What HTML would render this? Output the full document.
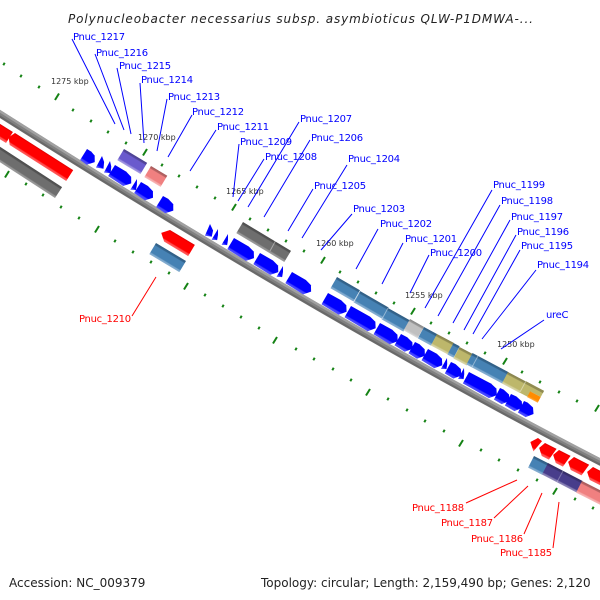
<!DOCTYPE html>
<html><head><meta charset="utf-8"><style>
html,body{margin:0;padding:0;background:#fff}
svg{display:block}
.l{font:10px "DejaVu Sans",sans-serif;letter-spacing:-.3px}
.b{fill:#00f}.r{fill:#f00}
.k{font:8px "DejaVu Sans",sans-serif;fill:#333}
.f{font:12px "DejaVu Sans",sans-serif;fill:#222}
</style></head><body>
<svg width="600" height="600" viewBox="0 0 600 600" xmlns="http://www.w3.org/2000/svg">
<defs>
<linearGradient id="bl" x1="0" y1="0" x2="0" y2="1"><stop offset="0" stop-color="#0000e8"/><stop offset=".1" stop-color="#00f"/><stop offset=".76" stop-color="#00f"/><stop offset=".84" stop-color="#4040ff"/><stop offset="1" stop-color="#5050ff"/></linearGradient>
<linearGradient id="rd" x1="0" y1="0" x2="0" y2="1"><stop offset="0" stop-color="#d80000"/><stop offset=".12" stop-color="#f00"/><stop offset=".78" stop-color="#f00"/><stop offset=".86" stop-color="#ff4a4a"/><stop offset="1" stop-color="#ff5c5c"/></linearGradient>
<linearGradient id="st" x1="0" y1="0" x2="0" y2="1"><stop offset="0" stop-color="#2f5c82"/><stop offset=".16" stop-color="#35668f"/><stop offset=".22" stop-color="#4682b4"/><stop offset=".8" stop-color="#4682b4"/><stop offset=".87" stop-color="#7aa6cc"/><stop offset="1" stop-color="#86aed0"/></linearGradient>
<linearGradient id="gy" x1="0" y1="0" x2="0" y2="1"><stop offset="0" stop-color="#4c4c4c"/><stop offset=".16" stop-color="#555"/><stop offset=".22" stop-color="#6e6e6e"/><stop offset=".8" stop-color="#6e6e6e"/><stop offset=".87" stop-color="#929292"/><stop offset="1" stop-color="#9a9a9a"/></linearGradient>
<linearGradient id="pu" x1="0" y1="0" x2="0" y2="1"><stop offset="0" stop-color="#4a3f90"/><stop offset=".16" stop-color="#55489f"/><stop offset=".22" stop-color="#6a5acd"/><stop offset=".8" stop-color="#6a5acd"/><stop offset=".87" stop-color="#9488dc"/><stop offset="1" stop-color="#a79de2"/></linearGradient>
<linearGradient id="pk" x1="0" y1="0" x2="0" y2="1"><stop offset="0" stop-color="#a85a5a"/><stop offset=".16" stop-color="#b86464"/><stop offset=".22" stop-color="#f08080"/><stop offset=".8" stop-color="#f08080"/><stop offset=".87" stop-color="#f5a6a6"/><stop offset="1" stop-color="#f8b8b8"/></linearGradient>
<linearGradient id="kh" x1="0" y1="0" x2="0" y2="1"><stop offset="0" stop-color="#84804b"/><stop offset=".16" stop-color="#948f55"/><stop offset=".22" stop-color="#bdb76b"/><stop offset=".8" stop-color="#bdb76b"/><stop offset=".87" stop-color="#d1cd97"/><stop offset="1" stop-color="#dad7aa"/></linearGradient>
<linearGradient id="lg" x1="0" y1="0" x2="0" y2="1"><stop offset="0" stop-color="#868686"/><stop offset=".16" stop-color="#999"/><stop offset=".22" stop-color="#c0c0c0"/><stop offset=".8" stop-color="#c0c0c0"/><stop offset="1" stop-color="#dcdcdc"/></linearGradient>
<linearGradient id="ds" x1="0" y1="0" x2="0" y2="1"><stop offset="0" stop-color="#322b61"/><stop offset=".16" stop-color="#3a3170"/><stop offset=".22" stop-color="#483d8b"/><stop offset=".8" stop-color="#483d8b"/><stop offset=".87" stop-color="#7f77ae"/><stop offset="1" stop-color="#9089ba"/></linearGradient>
<linearGradient id="or" x1="0" y1="0" x2="0" y2="1"><stop offset="0" stop-color="#ff8c00"/><stop offset=".7" stop-color="#ff8c00"/><stop offset="1" stop-color="#ffb04d"/></linearGradient>
</defs>

<text x="68" y="23" style="font:italic 12px 'DejaVu Sans',sans-serif;fill:#222" textLength="465">Polynucleobacter necessarius subsp. asymbioticus QLW-P1DMWA-...</text>

<!-- backbone -->
<path d="M-16,104 L0,114 Q327,321 600,462 L616,470" fill="none" stroke="#808080" stroke-width="7"/>
<path d="M-16,104 L0,114 Q327,321 600,462 L616,470" fill="none" stroke="#a0a0a0" stroke-width="2.500" transform="translate(1.200,-2)"/>
<path d="M-16,104 L0,114 Q327,321 600,462 L616,470" fill="none" stroke="#696969" stroke-width="2" transform="translate(-1.100,1.900)"/>

<!-- ticks -->
<path fill="none" stroke="#148214" stroke-width="2" d="M3.3,65.2l1.4,-2.4M20.3,77.2l1.4,-2.4M38.3,88.2l1.4,-2.4M72.3,111.2l1.4,-2.4M90.3,122.2l1.4,-2.4M107.3,133.2l1.4,-2.4M125.3,144.2l1.4,-2.4M161.3,166.2l1.4,-2.4M178.3,177.2l1.4,-2.4M196.3,188.2l1.4,-2.4M214.3,199.2l1.4,-2.4M249.3,220.2l1.4,-2.4M267.3,231.2l1.4,-2.4M285.3,242.2l1.4,-2.4M303.3,252.2l1.4,-2.4M339.3,273.2l1.4,-2.4M357.3,283.2l1.4,-2.4M375.3,294.2l1.4,-2.4M393.3,304.2l1.4,-2.4M430.3,324.2l1.4,-2.4M448.3,334.2l1.4,-2.4M466.3,344.2l1.4,-2.4M484.3,354.2l1.4,-2.4M521.3,373.2l1.4,-2.4M539.3,383.2l1.4,-2.4M558.3,393.2l1.4,-2.4M576.3,402.2l1.4,-2.4
M25.3,185.2l1.4,-2.4M42.3,196.2l1.4,-2.4M60.3,208.2l1.4,-2.4M78.3,219.2l1.4,-2.4M114.3,242.2l1.4,-2.4M132.3,253.2l1.4,-2.4M150.3,263.2l1.4,-2.4M168.3,274.2l1.4,-2.4M204.3,296.2l1.4,-2.4M222.3,307.2l1.4,-2.4M240.3,318.2l1.4,-2.4M258.3,329.2l1.4,-2.4M295.3,350.2l1.4,-2.4M313.3,360.2l1.4,-2.4M332.3,370.2l1.4,-2.4M350.3,381.2l1.4,-2.4M387.3,400.2l1.4,-2.4M406.3,411.2l1.4,-2.4M424.3,422.2l1.4,-2.4M443.3,432.2l1.4,-2.4M480.3,451.2l1.4,-2.4M498.3,461.2l1.4,-2.4M517.3,471.2l1.4,-2.4M536.3,481.2l1.4,-2.4M574.3,500.2l1.4,-2.4M592.3,509.2l1.4,-2.4"/>
<path fill="none" stroke="#148214" stroke-width="2" d="M55,100l4,-6.500M143,155.500l4,-6.500M232,210.500l4,-6.500M321,263.500l4,-6.500M411,314.500l4,-6.500M503,364.500l4,-6.500M595,411.500l4,-6.500M5,177.500l4,-6.500M95,232.500l4,-6.500M184,289.500l4,-6.500M273,343.500l4,-6.500M366,395.500l4,-6.500M459,446.500l4,-6.500M553,494.500l4,-6.500"/>

<!-- kbp labels -->
<text class="k" x="51" y="84">1275 kbp</text>
<text class="k" x="138" y="140">1270 kbp</text>
<text class="k" x="226" y="194">1265 kbp</text>
<text class="k" x="316" y="246">1260 kbp</text>
<text class="k" x="405" y="298">1255 kbp</text>
<text class="k" x="497" y="347">1250 kbp</text>

<!-- rect genes, upper -->
<rect transform="translate(124,149) rotate(31)" width="27" height="13" fill="url(#pu)"/>
<rect transform="translate(151,166) rotate(31)" width="19" height="13" fill="url(#pk)"/>
<rect transform="translate(243,222) rotate(31)" width="56" height="13" fill="url(#gy)"/>
<rect transform="translate(337,277) rotate(30)" width="26.500" height="13" fill="url(#st)"/>
<rect transform="translate(360,291) rotate(30)" width="33" height="13" fill="url(#st)"/>
<rect transform="translate(388,308) rotate(29.500)" width="25" height="13" fill="url(#st)"/>
<rect transform="translate(410,319) rotate(29.500)" width="16" height="13" fill="url(#lg)"/>
<rect transform="translate(424,327) rotate(28.500)" width="15" height="13" fill="url(#st)"/>
<rect transform="translate(437,334) rotate(28)" width="19" height="13" fill="url(#kh)"/>
<rect transform="translate(453.500,343) rotate(28)" width="7" height="13" fill="url(#st)"/>
<rect transform="translate(459.500,347) rotate(28)" width="15" height="13" fill="url(#kh)"/>
<rect transform="translate(472.500,353) rotate(28)" width="41" height="13" fill="url(#st)"/>
<rect transform="translate(508,372) rotate(28)" width="20" height="13" fill="url(#kh)"/>
<g transform="translate(525.500,381) rotate(28)"><polygon points="0,0 21,0 21,7 10,7 10,13 0,13" fill="#bdb76b"/><rect width="21" height="2.500" fill="#908b52"/><rect x="9" y="7" width="12" height="6.500" fill="url(#or)"/></g>
<path d="M276,240l-6,11M360,291l-6,11M388,308l-6,11M478,356l-6,11M526,381l-6,11" stroke="#fff" stroke-opacity=".4" stroke-width="1" fill="none"/>

<!-- rect genes, lower -->
<rect transform="translate(-5,143.500) rotate(33)" width="80" height="13" fill="url(#gy)"/>
<rect transform="translate(-21,110.800) rotate(32)" width="40" height="13" fill="url(#rd)"/>
<polygon transform="translate(15,133) rotate(32.500)" points="0,0 69,0 69,13 2,13 -3,7" fill="url(#rd)"/>
<polygon transform="translate(170,230) rotate(31)" points="0,0 29,0 29,13 1,13 -6,7" fill="url(#rd)"/>
<rect transform="translate(156,243) rotate(31)" width="35" height="13" fill="url(#st)"/>
<rect transform="translate(534,456) rotate(27)" width="16" height="13" fill="url(#st)"/>
<rect transform="translate(548,463) rotate(27.500)" width="39" height="13" fill="url(#ds)"/>
<rect transform="translate(582,481) rotate(27)" width="30" height="13" fill="url(#pk)"/>
<path d="M563,471l-6,11" stroke="#fff" stroke-opacity=".3" fill="none"/>
<polygon transform="translate(538,438) rotate(27)" points="0,0 5,1 2,14 1,13 -5,7" fill="url(#rd)"/>
<polygon transform="translate(545,443) rotate(27)" points="0,0 13,0 11,13 3,13 -3,7" fill="url(#rd)"/>
<polygon transform="translate(559,450) rotate(27)" points="0,0 13,0 11,13 3,13 -3,7" fill="url(#rd)"/>
<polygon transform="translate(574,457) rotate(27)" points="0,0 17,0 15,13 3,13 -3,7" fill="url(#rd)"/>
<polygon transform="translate(593,467) rotate(27)" points="0,0 20,0 20,13 3,13 -3,7" fill="url(#rd)"/>

<!-- blue genes -->
<g fill="url(#bl)">
<polygon transform="translate(87,149) rotate(32)" points="0,0 5,0 10,1.500 13.500,7 8,13.500 0,13"/>
<polygon transform="translate(102,156) rotate(32)" points="0,0 5,4 8,10 1,13"/>
<polygon transform="translate(110,161) rotate(32)" points="0,0 4,4 7,10 1,13"/>
<polygon transform="translate(115,165) rotate(32)" points="0,0 13,-.3 20,1.500 23.500,7 18,13.500 0,13"/>
<polygon transform="translate(137,179) rotate(32)" points="0,0 3,5 5,10 0,12.500"/>
<polygon transform="translate(141,182) rotate(32)" points="0,0 8,-.3 15,1.500 18.500,7 13,13.500 0,13"/>
<polygon transform="translate(163,196) rotate(32)" points="0,0 6,-.3 13,1.500 16.500,7 11,13.500 0,13"/>
<polygon transform="translate(210,224) rotate(31)" points="0,0 6,4 8,10 1.700,12.600"/>
<polygon transform="translate(218,229) rotate(31)" points="0,0 3,5 5,10 0,12.500"/>
<polygon transform="translate(228,234) rotate(31)" points="0,0 3,5 5,10 0,12.500"/>
<polygon transform="translate(234,238) rotate(31)" points="0,0 17,-.3 24,1.500 27.500,7 22,13.500 0,13"/>
<polygon transform="translate(260,253) rotate(31)" points="0,0 15,-.3 22,1.500 25.500,7 20,13.500 0,13"/>
<polygon transform="translate(283,266) rotate(31)" points="0,0 3,5 5,10 0,12.500"/>
<polygon transform="translate(292,272) rotate(31)" points="0,0 16,-.3 23,1.500 26.500,7 21,13.500 0,13"/>
<polygon transform="translate(328,293) rotate(30)" points="0,0 15,-.3 22,1.500 25.500,7 20,13.500 0,13"/>
<polygon transform="translate(351,306) rotate(30)" points="0,0 22,-.3 29,1.500 32.500,7 27,13.500 0,13"/>
<polygon transform="translate(380,323) rotate(30)" points="0,0 14,-.3 21,1.500 24.500,7 19,13.500 0,13"/>
<polygon transform="translate(401,334) rotate(30)" points="0,0 7,-.3 14,1.500 17.500,7 12,13.500 0,13"/>
<polygon transform="translate(415,342) rotate(30)" points="0,0 5,-.3 12,1.500 15.500,7 10,13.500 0,13"/>
<polygon transform="translate(428,349) rotate(30)" points="0,0 10,-.3 17,1.500 20.500,7 15,13.500 0,13"/>
<polygon transform="translate(447,358) rotate(29)" points="0,0 3,5 5,10 0,12.500"/>
<polygon transform="translate(451,362) rotate(28.500)" points="0,0 5,-.3 12,1.500 15.500,7 10,13.500 0,13"/>
<polygon transform="translate(464,368) rotate(28.500)" points="0,0 3,5 5,10 0,12.500"/>
<polygon transform="translate(469,372) rotate(28.500)" points="0,0 25,-.3 32,1.500 35.500,7 30,13.500 0,13"/>
<polygon transform="translate(500,388) rotate(28)" points="0,0 4,-.3 11,1.500 14.500,7 9,13.500 0,13"/>
<polygon transform="translate(511,394) rotate(28)" points="0,0 6,-.3 13,1.500 16.500,7 11,13.500 0,13"/>
<polygon transform="translate(524,401) rotate(28)" points="0,0 4,-.3 11,1.500 14.500,7 9,13.500 0,13"/>
</g>

<!-- callout lines -->
<path fill="none" stroke="#00f" stroke-width="1" d="M72,39L115,124M95,54L124,130M117,68L131,134M140,83L144,143M167,99L157,151M192,115L168,157M216,130L190,171M239,144L233,197M264,159L238,201M299,122L248,207M310,140L264,217M313,189L288,231M347,165L302,238M352,214L321,250M378,229L356,269M403,243L382,284M429,255L410,293M492,190L425,308M500,205L438,316M510,220L453,323M516,235L464,330M520,250L473,334M536,270L482,339M544,320L501,349"/>
<path fill="none" stroke="#f00" stroke-width="1" d="M156,277L132,316M517,480L466,503M528,486L494,518M542,493L524,534M559,502L553,548"/>

<g class="l b">
<text x="73" y="40">Pnuc_1217</text>
<text x="96" y="56">Pnuc_1216</text>
<text x="119" y="69">Pnuc_1215</text>
<text x="141" y="83">Pnuc_1214</text>
<text x="168" y="100">Pnuc_1213</text>
<text x="192" y="115">Pnuc_1212</text>
<text x="217" y="130">Pnuc_1211</text>
<text x="240" y="145">Pnuc_1209</text>
<text x="265" y="160">Pnuc_1208</text>
<text x="300" y="122">Pnuc_1207</text>
<text x="311" y="141">Pnuc_1206</text>
<text x="314" y="189">Pnuc_1205</text>
<text x="348" y="162">Pnuc_1204</text>
<text x="353" y="212">Pnuc_1203</text>
<text x="380" y="227">Pnuc_1202</text>
<text x="405" y="242">Pnuc_1201</text>
<text x="430" y="256">Pnuc_1200</text>
<text x="493" y="188">Pnuc_1199</text>
<text x="501" y="204">Pnuc_1198</text>
<text x="511" y="220">Pnuc_1197</text>
<text x="517" y="235">Pnuc_1196</text>
<text x="521" y="249">Pnuc_1195</text>
<text x="537" y="268">Pnuc_1194</text>
<text x="546" y="318">ureC</text>
</g>
<g class="l r">
<text x="79" y="322">Pnuc_1210</text>
<text x="412" y="511">Pnuc_1188</text>
<text x="441" y="526">Pnuc_1187</text>
<text x="471" y="542">Pnuc_1186</text>
<text x="500" y="556">Pnuc_1185</text>
</g>

<text class="f" x="9" y="587">Accession: NC_009379</text>
<text class="f" x="261" y="587">Topology: circular; Length: 2,159,490 bp; Genes: 2,120</text>
</svg>
</body></html>
